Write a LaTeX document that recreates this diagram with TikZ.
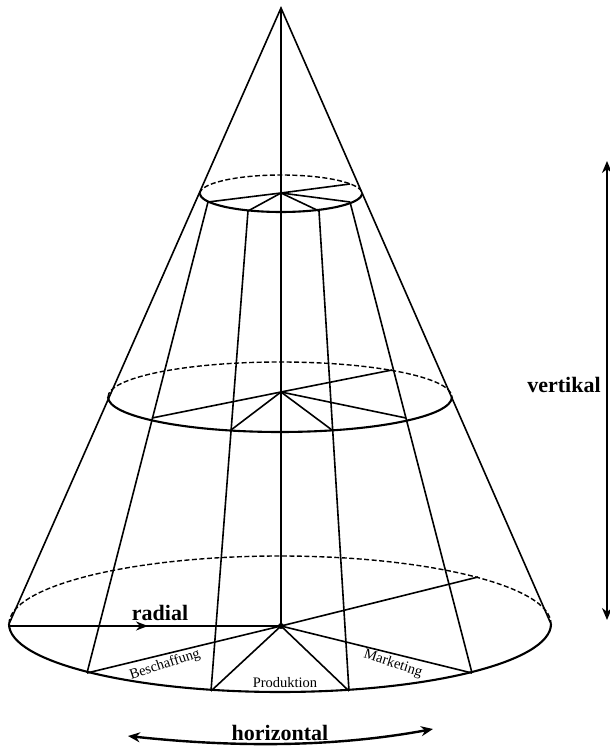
\documentclass[tikz,border=0pt]{standalone}
\usepackage{fontspec}
\setmainfont{Liberation Serif}
\usetikzlibrary{arrows.meta}
\tikzset{
  spoke/.style={line width=1.6pt},
  ringfront/.style={line width=2.1pt},
  ringback/.style={line width=1.4pt, dash pattern=on 5pt off 2.5pt},
  bigarrow/.style={line width=2.4pt, {Stealth[length=12pt,width=10pt]}-{Stealth[length=12pt,width=10pt]}},
  axislabel/.style={font=\fontsize{22}{22}\selectfont\bfseries, inner sep=0pt},
  arealabel/.style={font=\fontsize{14.5}{15}\selectfont, inner sep=0pt}
}
\begin{document}
\begin{tikzpicture}[x=1pt, y=1pt]
  \useasboundingbox (0,0) rectangle (610,747);
  \coordinate (apex) at (281,739);
  \coordinate (hubA) at (281,121);
  \coordinate (hubB) at (281,355);
  \coordinate (hubC) at (281,554);
  \coordinate (botL) at (9,123);
  \coordinate (botR) at (551,123);
  \coordinate (midL) at (108,350);
  \coordinate (topL) at (200,553.5);
  % rim points, left to right, last one at the back
  \coordinate (a1) at (87,74);
  \coordinate (a2) at (211,56);
  \coordinate (a3) at (349,56);
  \coordinate (a4) at (472,74);
  \coordinate (a5) at (478,170);
  \coordinate (b1) at (152,329);
  \coordinate (b2) at (231,317);
  \coordinate (b3) at (332,317);
  \coordinate (b4) at (406,329);
  \coordinate (b5) at (392,377);
  \coordinate (c1) at (208,545);
  \coordinate (c2) at (248,536);
  \coordinate (c3) at (319,536);
  \coordinate (c4) at (350,545);
  \coordinate (c5) at (350,563);
  % rings
  \draw[ringfront] (botL) arc[start angle=180, end angle=360, x radius=271, y radius=68];
  \draw[ringback] (botL) arc[start angle=180, end angle=0, x radius=271, y radius=68];
  \draw[ringfront] (midL) arc[start angle=180, end angle=360, x radius=172, y radius=35];
  \draw[ringback] (midL) arc[start angle=180, end angle=0, x radius=172, y radius=35];
  \draw[ringfront] (topL) arc[start angle=180, end angle=360, x radius=81, y radius=18.5];
  \draw[ringback] (topL) arc[start angle=180, end angle=0, x radius=81, y radius=18.5];
  % cone
  \draw[spoke] (botL) -- (apex) -- (botR);
  \draw[spoke] (apex) -- (hubA);
  \foreach \n in {1,...,4}
    \draw[spoke] (a\n) -- (c\n);
  \foreach \n in {1,...,5} {
    \draw[spoke] (hubA) -- (a\n);
    \draw[spoke] (hubB) -- (b\n);
    \draw[spoke] (hubC) -- (c\n);
  }
  % radial
  \coordinate (radialstart) at (8,121);
  \coordinate (radialtip) at (148,121);
  \draw[line width=2.4pt] (radialstart) -- (hubA);
  \draw[line width=2.4pt, -{Stealth[length=12pt,width=9pt]}] (radialstart) -- (radialtip);
  \fill (hubA) circle (3pt);
  \node[axislabel] (radial) at (160,134) {radial};
  % vertikal
  \coordinate (vertup) at (607,586);
  \coordinate (vertdown) at (607,127);
  \draw[bigarrow] (vertdown) -- (vertup);
  \node[axislabel] (vertikal) at (564,362) {vertikal};
  % horizontal
  \coordinate (horleft) at (128,11);
  \coordinate (horright) at (433,18);
  \draw[bigarrow] (horleft) .. controls (230,0) and (330,-1) .. (horright);
  \node[axislabel] (horizontal) at (280,14) {horizontal};
  % areas
  \node[arealabel, rotate=18] (beschaffung) at (165,82) {Beschaffung};
  \node[arealabel] (produktion) at (285,64) {Produktion};
  \node[arealabel, rotate=-18] (marketing) at (393,83) {Marketing};
\end{tikzpicture}
\end{document}
